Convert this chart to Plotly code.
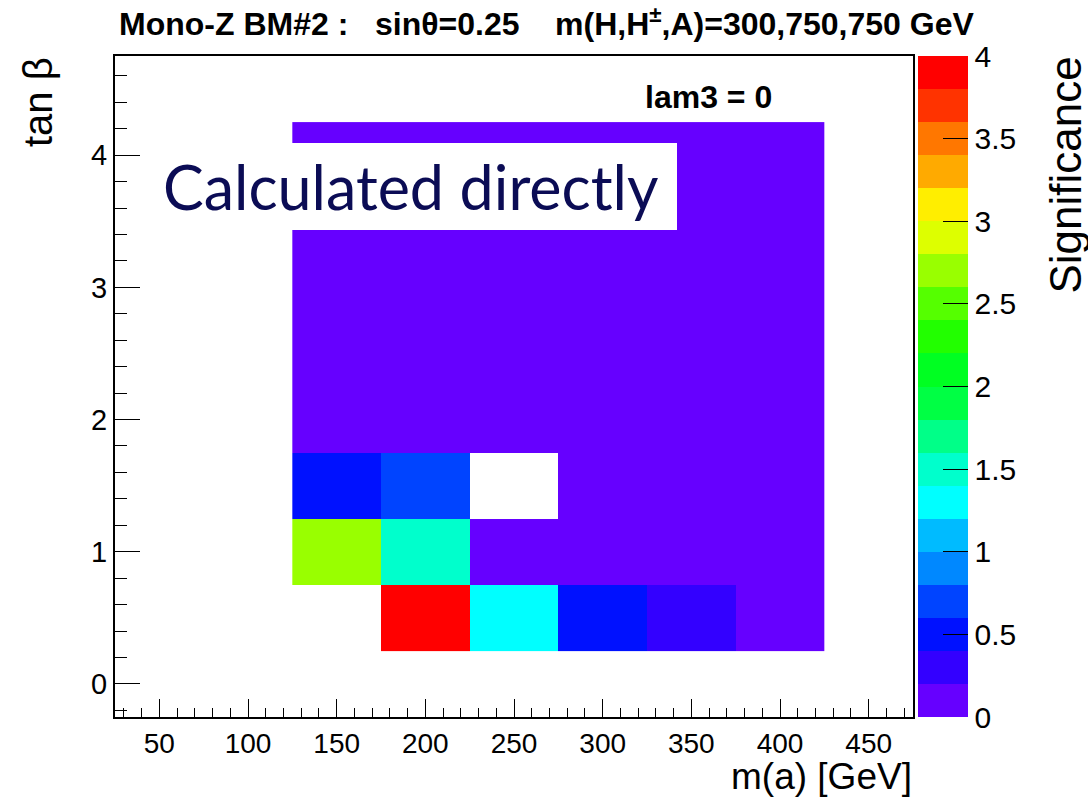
import plotly.graph_objects as go

# m(a) bin centres [GeV] and tan(beta) bin centres
m_a = [150, 200, 250, 300, 350, 400]
tan_beta = [0.5, 1.0, 1.5, 2.0, 2.5, 3.0, 3.5, 4.0]

# Significance per (tan beta row, m(a) column); None = empty bin
sig_tb_0p5 = [None, 3.9, 1.3, 0.5, 0.3, 0.1]
sig_tb_1p0 = [2.7, 1.5, 0.1, 0.1, 0.1, 0.1]
sig_tb_1p5 = [0.5, 0.7, None, 0.1, 0.1, 0.1]
sig_tb_2p0 = [0.1, 0.1, 0.1, 0.1, 0.1, 0.1]
sig_tb_2p5 = [0.1, 0.1, 0.1, 0.1, 0.1, 0.1]
sig_tb_3p0 = [0.1, 0.1, 0.1, 0.1, 0.1, 0.1]
sig_tb_3p5 = [0.1, 0.1, 0.1, 0.1, 0.1, 0.1]
sig_tb_4p0 = [0.1, 0.1, 0.1, 0.1, 0.1, 0.1]

# 20-level palette from 0 to 4 (bottom to top)
palette = [
    "#6600FF", "#3300FF", "#0011FF", "#0044FF", "#0088FF",
    "#00BBFF", "#00FFFF", "#00FFCC", "#00FF88", "#00FF44",
    "#00FF22", "#22FF00", "#55FF00", "#99FF00", "#DDFF00",
    "#FFEE00", "#FFAA00", "#FF7700", "#FF3300", "#FF0000",
]
cbar_ticks = [0, 0.5, 1, 1.5, 2, 2.5, 3, 3.5, 4]
cbar_labels = ["0", "0.5", "1", "1.5", "2", "2.5", "3", "3.5", "4"]
x_ticks = [50, 100, 150, 200, 250, 300, 350, 400, 450]
y_ticks = [0, 1, 2, 3, 4]

z = [sig_tb_0p5, sig_tb_1p0, sig_tb_1p5, sig_tb_2p0,
     sig_tb_2p5, sig_tb_3p0, sig_tb_3p5, sig_tb_4p0]

n = len(palette)
colorscale = []
for i, c in enumerate(palette):
    colorscale.append([i / n, c])
    colorscale.append([(i + 1) / n, c])

W, H = 1088, 797
ML, MR, MT, MB = 115, 175, 56, 80
PW = W - ML - MR
PH = H - MT - MB


def px(x):
    return (x - ML) / PW


def py(y):
    return (H - MB - y) / PH


FONT = "Liberation Sans, Arial, Helvetica, sans-serif"

fig = go.Figure()
fig.add_trace(go.Heatmap(
    x=m_a, y=tan_beta, z=z,
    zmin=0, zmax=4,
    colorscale=colorscale,
    hoverongaps=False,
    colorbar=dict(
        x=px(918), xanchor="left", xpad=0,
        y=0.5, yanchor="middle", ypad=0,
        len=1, lenmode="fraction",
        thickness=50, thicknessmode="pixels",
        outlinewidth=0,
        tickmode="array", tickvals=cbar_ticks, ticktext=cbar_labels,
        ticks="inside", ticklen=25, tickwidth=1, tickcolor="black",
        tickfont=dict(family=FONT, size=30, color="black"),
    ),
))

axis_common = dict(
    showgrid=False, zeroline=False,
    showline=True, linecolor="black", linewidth=2, mirror=True,
    ticks="inside", tickcolor="black", tickwidth=1,
)

fig.update_layout(
    width=W, height=H,
    margin=dict(l=ML, r=MR, t=MT, b=MB),
    paper_bgcolor="white", plot_bgcolor="white",
    xaxis=dict(range=[25, 475], tickvals=x_ticks, ticklen=18,
               tickfont=dict(family=FONT, size=28, color="black"),
               minor=dict(dtick=10, tick0=0, ticklen=9, ticks="inside",
                          tickcolor="black", tickwidth=1),
               **axis_common),
    yaxis=dict(range=[-0.25, 4.75], tickvals=y_ticks, ticklen=25,
               tickfont=dict(family=FONT, size=29, color="black"),
               minor=dict(dtick=0.2, tick0=0, ticklen=12, ticks="inside",
                          tickcolor="black", tickwidth=1),
               **axis_common),
    showlegend=False,
)

# white backing panel for the overlay caption
fig.add_shape(type="rect", xref="paper", yref="paper",
              x0=px(150), x1=px(677), y0=py(230), y1=py(143),
              fillcolor="white", line=dict(width=0), layer="above")

annotations = [
    dict(text="<b>Mono-Z BM#2 :   sin\u03b8=0.25    m(H,H<sup>\u00b1</sup>,A)=300,750,750 GeV</b>",
         x=px(117), y=py(22), xanchor="left", yanchor="middle",
         font=dict(family=FONT, size=32, color="black")),
    dict(text="<b>lam3 = 0</b>", x=px(643), y=py(97),
         xanchor="left", yanchor="middle",
         font=dict(family=FONT, size=32, color="black")),
    dict(text="Calculated directly", x=px(660), y=py(186),
         xanchor="right", yanchor="middle",
         font=dict(family="Lato, sans-serif", size=61, color="#0b0c55")),
    dict(text="tan \u03b2", x=px(38), y=py(55), xanchor="center", yanchor="top",
         textangle=-90, font=dict(family=FONT, size=40, color="black")),
    dict(text="m(a) [GeV]", x=px(914), y=py(776), xanchor="right", yanchor="middle",
         font=dict(family=FONT, size=37, color="black")),
    dict(text="Significance", x=px(1065), y=py(55), xanchor="center", yanchor="top",
         textangle=-90, font=dict(family=FONT, size=44, color="black")),
]
for a in annotations:
    a.update(xref="paper", yref="paper", showarrow=False)
fig.update_layout(annotations=annotations)

fig.write_html("out.html")
